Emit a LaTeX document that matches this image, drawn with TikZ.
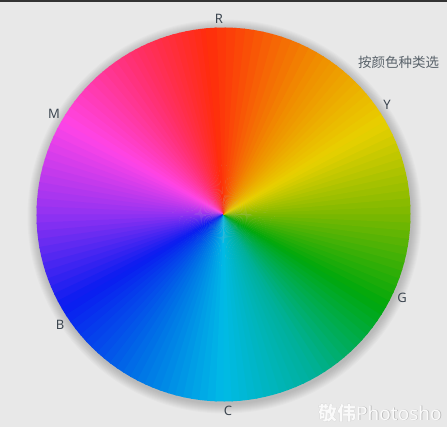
\documentclass[tikz,border=0pt]{standalone}
\usepackage{fontspec}
\setmainfont{Noto Sans}
\newfontfamily\cjkfont{Noto Sans CJK SC}
\definecolor{bgc}{HTML}{E8E8E8}
\definecolor{topbar}{HTML}{333333}
\definecolor{labc}{HTML}{3C4650}
\definecolor{cRa}{HTML}{FF2C0C}
\definecolor{cPk}{HTML}{FF3070}
\definecolor{cMg}{HTML}{FF44E6}
\definecolor{cPu}{HTML}{9232F2}
\definecolor{cBl}{HTML}{0A1CF0}
\definecolor{cAz}{HTML}{006EE6}
\definecolor{cCy}{HTML}{00BAE6}
\definecolor{cTe}{HTML}{00B098}
\definecolor{cGr}{HTML}{00A80C}
\definecolor{cLg}{HTML}{7CB800}
\definecolor{cYe}{HTML}{E8D000}
\definecolor{cOr}{HTML}{F08A00}
\begin{document}
\begin{tikzpicture}[x=1pt,y=1pt,
  lab/.style={text=labc,font=\fontsize{13}{13}\selectfont,inner sep=0pt},
  cjk/.style={text=labc!85,font=\cjkfont\fontsize{13.5}{13.5}\selectfont,inner sep=0pt,anchor=west}]
\useasboundingbox (0,0) rectangle (447,427);
\fill[bgc] (0,0) rectangle (447,427);
\fill[topbar] (0,425) rectangle (447,427);
\coordinate (O) at (223.5,212.5);
\def\R{187}
% soft shadow
\foreach \k in {10,9,...,1}{
  \fill[black,opacity=0.018] ([shift={(1,-2)}]O) circle[radius=\R+\k];
}
% conic wheel
\foreach \a/\b/\ca/\cb in {-265/-240/cRa/cPk, -240/-210/cPk/cMg, -210/-180/cMg/cPu,
  -180/-150/cPu/cBl, -150/-120/cBl/cAz, -120/-90/cAz/cCy, -90/-60/cCy/cTe,
  -60/-30/cTe/cGr, -30/0/cGr/cLg, 0/30/cLg/cYe, 30/60/cYe/cOr, 60/95/cOr/cRa}{
  \foreach \i in {0,...,11}{
    \pgfmathsetmacro\st{\a+(\b-\a)*\i/12}
    \pgfmathsetmacro\en{\a+(\b-\a)*(\i+1)/12+0.5}
    \pgfmathsetmacro\p{100*(\i+0.5)/12}
    \fill[\cb!\p!\ca] (O) -- ++(\st:\R) arc[start angle=\st, end angle=\en, radius=\R] -- cycle;
  }
}
% labels
\node[lab] (R) at (219,408) {R};
\node[lab] (Y) at (387,322) {Y};
\node[lab] (G) at (402,129) {G};
\node[lab] (C) at (228,16) {C};
\node[lab] (B) at (60,102) {B};
\node[lab] (M) at (54,313) {M};
\node[cjk] (title) at (358,365) {按颜色种类选};
\node[anchor=west,inner sep=0pt,text=gray!60,font=\fontsize{19}{19}\selectfont] at (318.7,13.3) {\cjkfont\bfseries\itshape 敬伟\normalfont Photosho};
\node[anchor=west,inner sep=0pt,text=white!96!gray,font=\fontsize{19}{19}\selectfont] (wm) at (318,14) {\cjkfont\bfseries\itshape 敬伟\normalfont Photosho};
\end{tikzpicture}
\end{document}
